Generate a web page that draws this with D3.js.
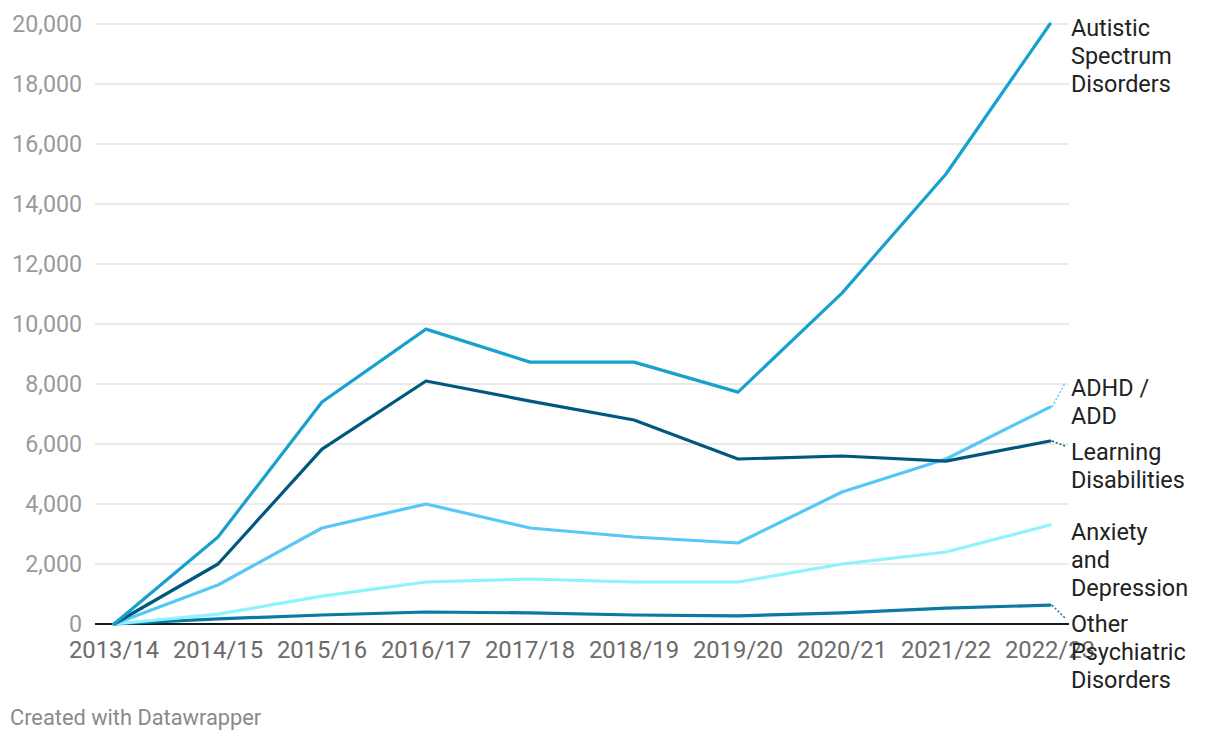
<!DOCTYPE html>
<html><head><meta charset="utf-8">
<script src="https://cdn.jsdelivr.net/npm/d3@7"></script>
<style>
body{margin:0;background:#fff;font-family:Roboto,sans-serif;}
</style></head>
<body><svg id="c" width="1220" height="740"></svg>
<script>
const years = ["2013/14","2014/15","2015/16","2016/17","2017/18","2018/19","2019/20","2020/21","2021/22","2022/23"];
const autistic = [0,2900,7400,9830,8730,8730,7730,11030,15000,20000];
const learning = [0,2000,5830,8100,7430,6800,5500,5600,5430,6100];
const adhd = [0,1300,3200,4000,3200,2900,2700,4400,5500,7230];
const anxiety = [0,330,930,1400,1500,1400,1400,2000,2400,3300];
const other = [0,170,300,400,370,300,270,370,530,630];
const yTicks = [0,2000,4000,6000,8000,10000,12000,14000,16000,18000,20000];

const series = [
  {name:["Autistic","Spectrum","Disorders"], values:autistic, color:"#18a1cd", labelY:28},
  {name:["ADHD /","ADD"], values:adhd, color:"#55c8f5", labelY:388},
  {name:["Learning","Disabilities"], values:learning, color:"#00587e", labelY:452},
  {name:["Anxiety","and","Depression"], values:anxiety, color:"#8ef2ff", labelY:532},
  {name:["Other","Psychiatric","Disorders"], values:other, color:"#0a79a3", labelY:624}
];

const svg = d3.select("#c");
const x = d3.scalePoint().domain(years).range([114,1050]);
const y = d3.scaleLinear().domain([0,20000]).range([624,24]);
const gx0 = 95, gx1 = 1069;

svg.append("g").selectAll("line").data(yTicks.filter(d=>d>0)).join("line")
  .attr("x1",gx0).attr("x2",gx1).attr("y1",d=>y(d)).attr("y2",d=>y(d))
  .attr("stroke","#e3e3e3").attr("stroke-width",1.5);

svg.append("g").selectAll("text").data(yTicks).join("text")
  .attr("x",82).attr("y",d=>y(d)).attr("dy","0.35em").attr("text-anchor","end")
  .attr("font-size",23.2).attr("fill","#9a9a9a").text(d=>d3.format(",")(d));

svg.append("g").selectAll("text").data(years).join("text")
  .attr("x",d=>x(d)).attr("y",650).attr("dy","0.35em").attr("text-anchor","middle")
  .attr("font-size",23.8).attr("fill","#6b6b6b").text(d=>d);

svg.append("line").attr("x1",gx0).attr("x2",gx1).attr("y1",y(0)).attr("y2",y(0))
  .attr("stroke","#1a1a1a").attr("stroke-width",2);

const line = d3.line().x((d,i)=>x(years[i])).y(d=>y(d));
const order = [4,3,1,2,0];
order.forEach(k=>{
  const s = series[k];
  svg.append("path").attr("d",line(s.values)).attr("fill","none")
    .attr("stroke",s.color).attr("stroke-width",3.2).attr("stroke-linejoin","round").attr("stroke-linecap","round");
});

series.forEach(s=>{
  const endY = y(s.values[s.values.length-1]);
  const lx = 1071;
  const firstY = s.labelY;
  if (Math.abs(endY - firstY) > 9) {
    svg.append("line").attr("x1",1052).attr("y1",endY).attr("x2",1065).attr("y2",firstY<endY? firstY-5 : firstY-6)
      .attr("stroke",s.color).attr("stroke-width",1.5).attr("stroke-dasharray","2,2");
  }
  const t = svg.append("text").attr("x",lx).attr("font-size",23.4).attr("fill","#222");
  s.name.forEach((ln,i)=>{
    t.append("tspan").attr("x",lx).attr("y",firstY + i*28).attr("dy","0.35em").text(ln);
  });
});

svg.append("text").attr("x",10).attr("y",717).attr("dy","0.35em").attr("font-size",21.8)
  .attr("fill","#8a8a8a").text("Created with Datawrapper");
</script></body></html>
